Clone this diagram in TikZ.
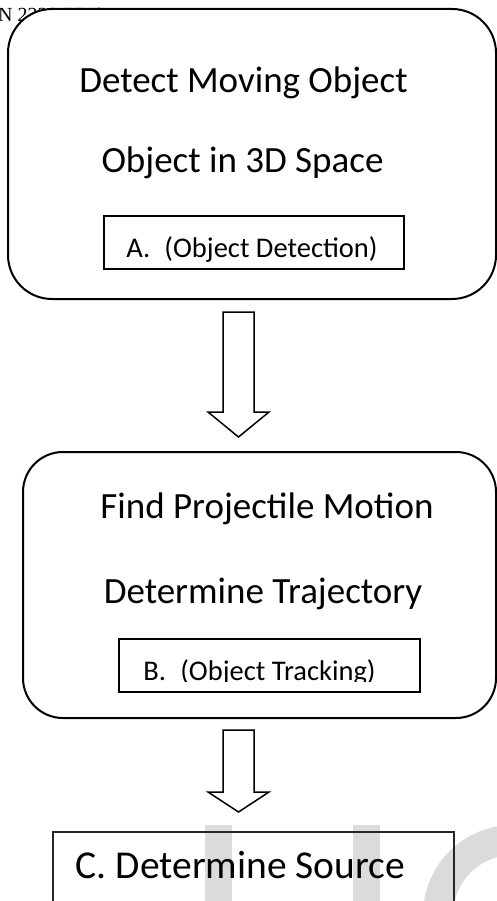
\documentclass[tikz,border=0pt]{standalone}
\usepackage{fontspec}
\setmainfont{Carlito}
\newfontfamily\hdrfont{Liberation Serif}
\begin{document}
\begin{tikzpicture}[x=1pt,y=-1pt,
  bigbox/.style={draw=black,line width=2pt,fill=white,rounded corners=44pt,inner sep=0pt},
  subbox/.style={draw=black,line width=1.3pt,inner sep=0pt},
  srcbox/.style={draw=black!85,line width=1.6pt,inner sep=0pt},
  blockarrow/.style={draw=black,line width=1.5pt,fill=white,line join=miter},
  maintext/.style={anchor=base,inner sep=0pt,font=\fontsize{37}{42}\selectfont},
  subtext/.style={anchor=base,inner sep=0pt,font=\fontsize{28.5}{32}\selectfont},
  bigtext/.style={anchor=base,inner sep=0pt,font=\fontsize{39.5}{45}\selectfont},
  wm/.style={fill=black!14,draw=none}]
\useasboundingbox (0,0) rectangle (497,901);
% watermark
\fill[wm] (205,825) rectangle (232,901);
\fill[wm] (353,825) rectangle (380,901);
\fill[wm,even odd rule] (513,915) circle[radius=90pt] (513,915) circle[radius=60pt];
% page header fragment
\node[anchor=base west,inner sep=0pt,font=\hdrfont\fontsize{20}{24}\selectfont] (hdr) at (-31,22) {ISSN 2229-5518};
% box 1
\node[bigbox,minimum width=488pt,minimum height=290pt] (b1) at (252,154) {};
\node[maintext] (t1) at (243.5,93) {Detect Moving Object};
\node[maintext] (t2) at (242.5,173) {Object in 3D Space};
\node[subbox,minimum width=300pt,minimum height=53pt] (a) at (254,242.5) {};
\node[subtext] (ta) at (252,257) {A.\hspace{0.5em}(Object Detection)};
% arrow 1
\coordinate (a1) at (223,312);
\coordinate (a1tip) at (238.5,437);
\draw[blockarrow] (a1) -- (254,312) -- (254,412) -- (269,412) -- (a1tip) -- (208,412) -- (223,412) -- cycle;
% box 2
\node[bigbox,rounded corners=40pt,minimum width=473pt,minimum height=266pt] (b2) at (259.5,585) {};
\node[maintext] (t3) at (267,518) {Find Projectile Motion};
\node[maintext] (t4) at (263,603) {Determine Trajectory};
\node[subbox,minimum width=301pt,minimum height=53pt] (b) at (269.5,665.5) {};
\begin{scope}
\clip (0,600) rectangle (497,681);
\node[subtext] (tb) at (259.5,680) {B.\hspace{0.5em}(Object Tracking)};
\end{scope}
% arrow 2
\coordinate (a2) at (223,730);
\coordinate (a2tip) at (238.5,812);
\draw[blockarrow] (a2) -- (254,730) -- (254,792) -- (269,792) -- (a2tip) -- (208,792) -- (223,792) -- cycle;
% box C
\node[srcbox,minimum width=401pt,minimum height=108pt] (c) at (253.5,886) {};
\node[bigtext] (tc) at (240.5,878) {C. Determine Source};
\end{tikzpicture}
\end{document}
